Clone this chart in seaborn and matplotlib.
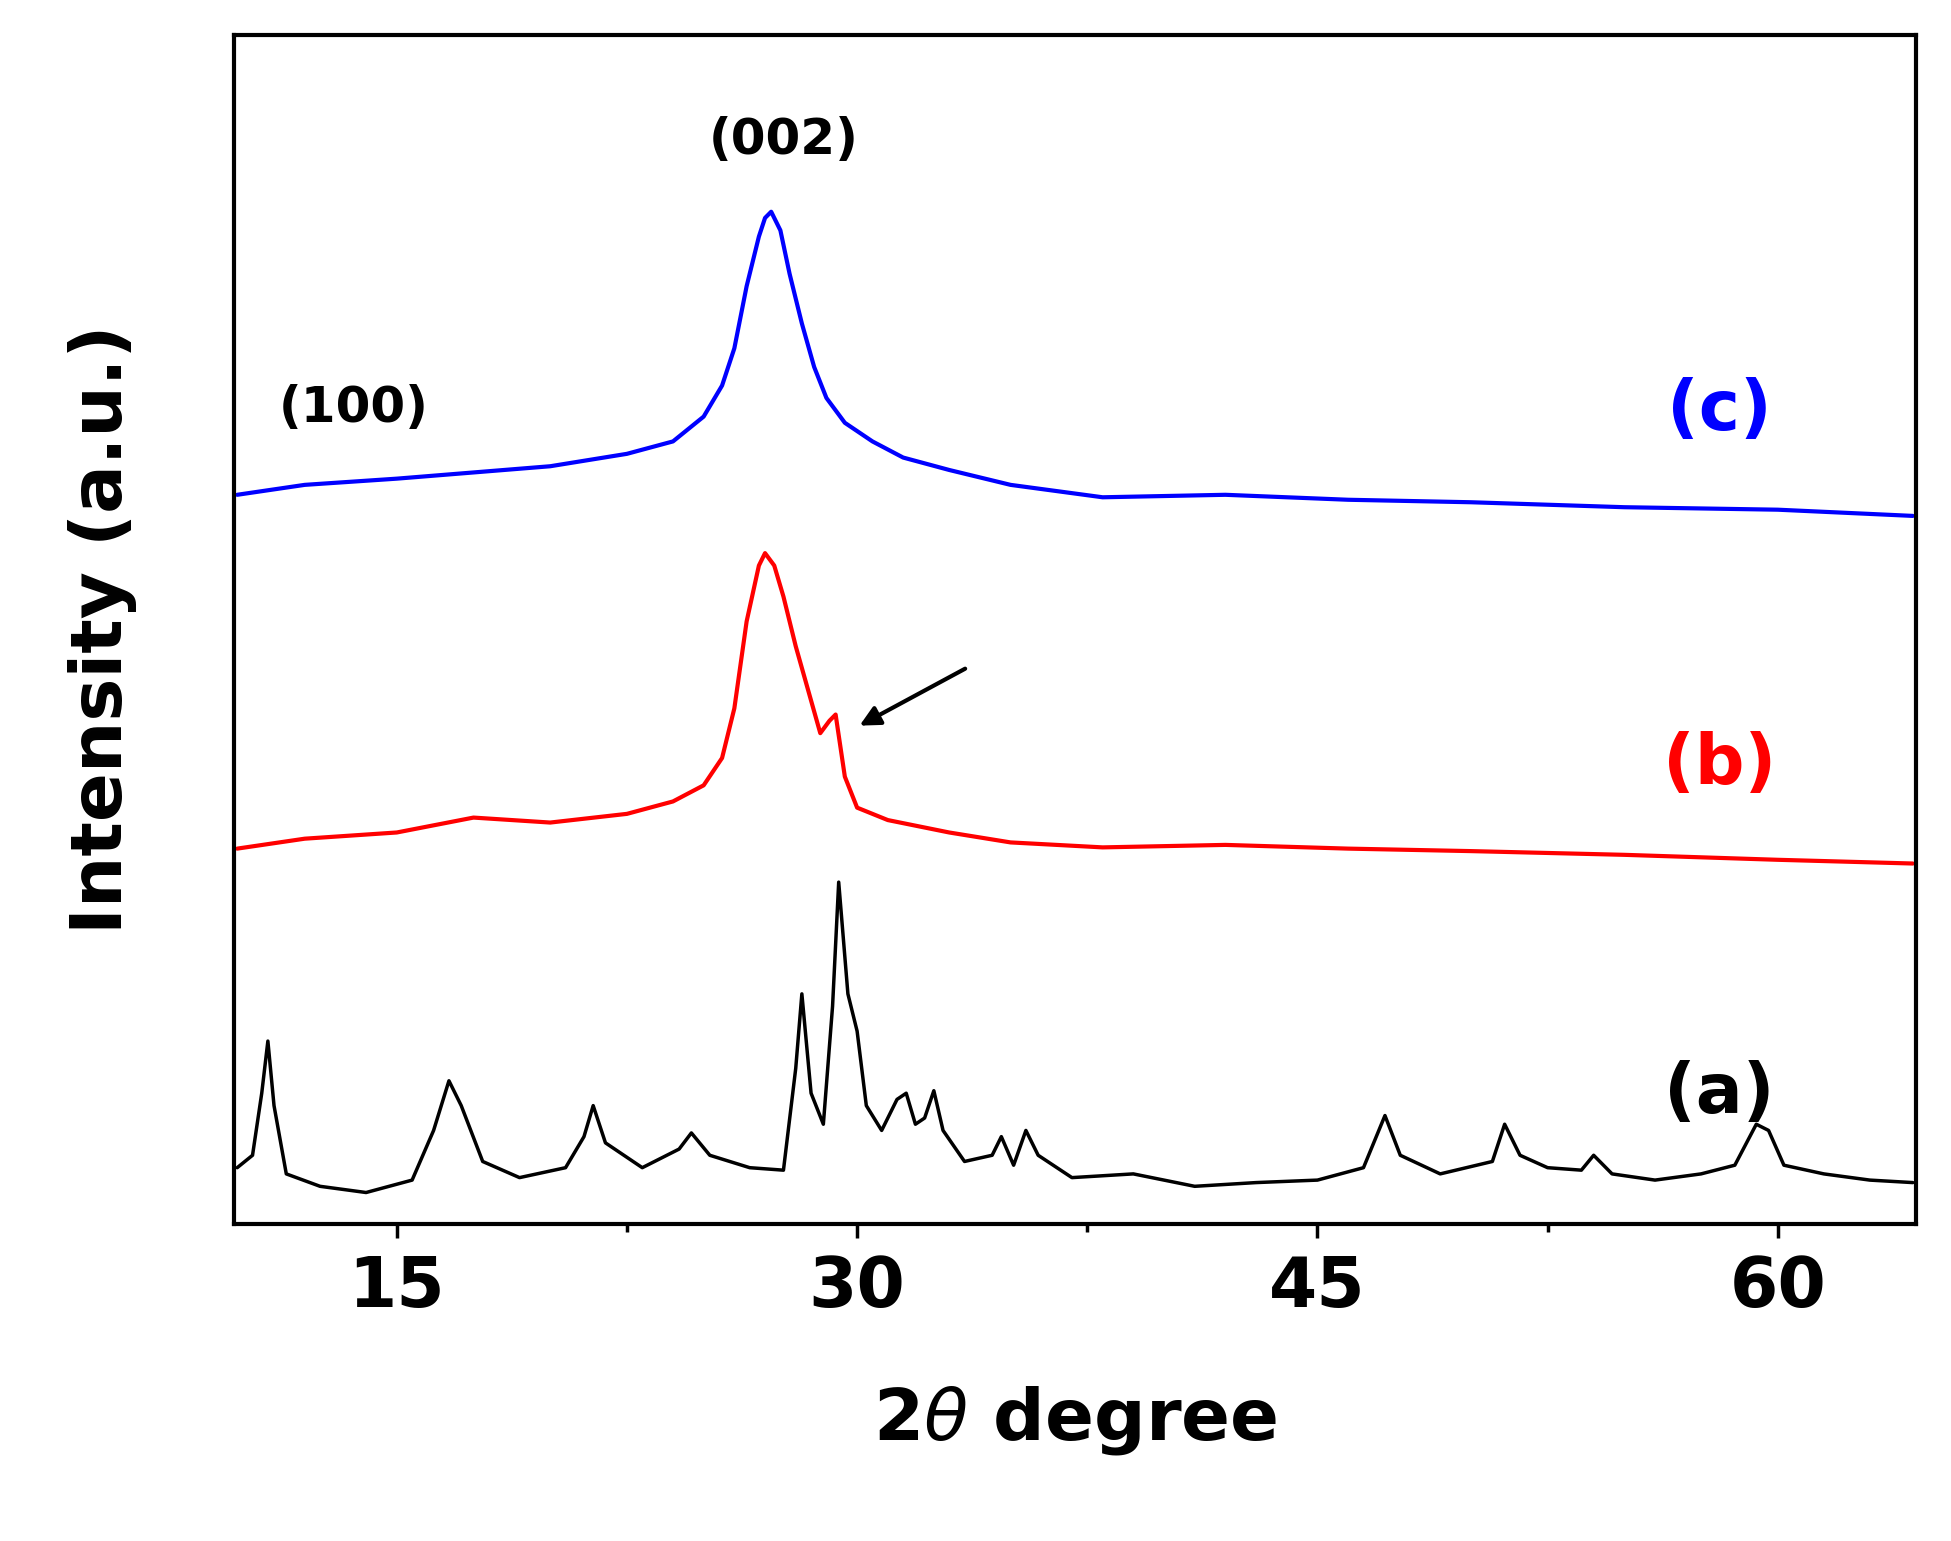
import numpy as np
import matplotlib
matplotlib.use('Agg')
from matplotlib import pyplot as plt
import seaborn as sns

# pattern (a): black, sharp peaks
a_x = [9.8, 10.3, 10.6, 10.8, 11.0, 11.4, 12.5, 14.0, 15.5, 16.2, 16.7, 17.1, 17.8, 19.0, 20.5, 21.1, 21.4, 21.8, 23.0,
       24.2, 24.6, 25.2, 26.5, 27.6, 28.0, 28.2, 28.5, 28.9, 29.2, 29.4, 29.7, 30.0, 30.3, 30.8, 31.3, 31.6, 31.9,
       32.2, 32.5, 32.8, 33.5, 34.4, 34.7, 35.1, 35.5, 35.9, 37.0, 39.0, 41.0, 43.0, 45.0, 46.5, 47.2, 47.7, 49.0,
       50.7, 51.1, 51.6, 52.5, 53.6, 54.0, 54.6, 56.0, 57.5, 58.6, 59.3, 59.7, 60.2, 61.5, 63.0, 64.4]
a_y = [60, 70, 120, 162, 110, 55, 45, 40, 50, 90, 130, 110, 65, 52, 60, 85, 110, 80, 60,
       75, 88, 70, 60, 58, 140, 200, 120, 95, 190, 290, 200, 170, 110, 90, 115, 120, 95,
       100, 122, 90, 65, 70, 85, 62, 90, 70, 52, 55, 45, 48, 50, 60, 102, 70, 55,
       65, 95, 70, 60, 58, 70, 55, 50, 55, 62, 95, 90, 62, 55, 50, 48]

# pattern (b): red
b_x = [9.8, 12.0, 15.0, 17.5, 20.0, 22.5, 24.0, 25.0, 25.6, 26.0, 26.4, 26.8, 27.0, 27.3, 27.6, 28.0, 28.4, 28.8,
       29.1, 29.3, 29.6, 30.0, 31.0, 33.0, 35.0, 38.0, 42.0, 46.0, 50.0, 55.0, 60.0, 64.4]
b_y = [317, 325, 330, 342, 338, 345, 355, 368, 390, 430, 500, 545, 555, 545, 520, 480, 445, 410,
       420, 425, 375, 350, 340, 330, 322, 318, 320, 317, 315, 312, 308, 305]

# pattern (c): blue
c_x = [9.8, 12.0, 15.0, 17.5, 20.0, 22.5, 24.0, 25.0, 25.6, 26.0, 26.4, 26.8, 27.0, 27.2, 27.5, 27.8, 28.2, 28.6,
       29.0, 29.6, 30.5, 31.5, 33.0, 35.0, 38.0, 42.0, 46.0, 50.0, 55.0, 60.0, 64.4]
c_y = [602, 610, 615, 620, 625, 635, 645, 665, 690, 720, 770, 810, 825, 830, 815, 780, 740, 705,
       680, 660, 645, 632, 622, 610, 600, 602, 598, 596, 592, 590, 585]

sns.set_style('ticks')
plt.rcParams['font.family'] = ['DejaVu Sans']
plt.rcParams['text.color'] = 'black'
plt.rcParams['axes.labelcolor'] = 'black'
plt.rcParams['xtick.color'] = 'black'
plt.rcParams['axes.edgecolor'] = 'black'
fig = plt.figure(figsize=(19.51, 15.41), dpi=100)
ax = fig.add_axes([0.12, 0.206, 0.862, 0.771])

sns.lineplot(x=a_x, y=a_y, color='black', lw=2.5, ax=ax)
sns.lineplot(x=b_x, y=b_y, color='red', lw=3, ax=ax)
sns.lineplot(x=c_x, y=c_y, color='blue', lw=3, ax=ax)

ax.set_xlim(9.7, 64.5)
ax.set_ylim(15, 972)
ax.set_xticks([15, 30, 45, 60])
ax.set_xticks([22.5, 37.5, 52.5], minor=True)
ax.set_yticks([])
ax.tick_params(axis='x', which='major', length=10, width=2.5, labelsize=50, pad=12)
ax.tick_params(axis='x', which='minor', length=6, width=2.5)
for lab in ax.get_xticklabels():
    lab.set_fontweight('bold')
for s in ax.spines.values():
    s.set_linewidth(3)
    s.set_visible(True)

ax.set_xlabel(r'2$\theta$ degree', fontsize=52, fontweight='bold', labelpad=45)
ax.set_ylabel('Intensity (a.u.)', fontsize=52, fontweight='bold', labelpad=70)

ax.text(27.6, 888, '(002)', fontsize=36, fontweight='bold', ha='center', va='center')
ax.text(13.6, 672, '(100)', fontsize=36, fontweight='bold', ha='center', va='center')
ax.text(58.1, 670, '(c)', fontsize=50, fontweight='bold', color='blue', ha='center', va='center')
ax.text(58.1, 385, '(b)', fontsize=50, fontweight='bold', color='red', ha='center', va='center')
ax.text(58.1, 120, '(a)', fontsize=50, fontweight='bold', color='black', ha='center', va='center')
ax.annotate('', xy=(30.0, 415), xytext=(33.6, 463),
            arrowprops=dict(arrowstyle='-|>', color='black', lw=3, mutation_scale=30))

fig.savefig('out.png', dpi=100)
